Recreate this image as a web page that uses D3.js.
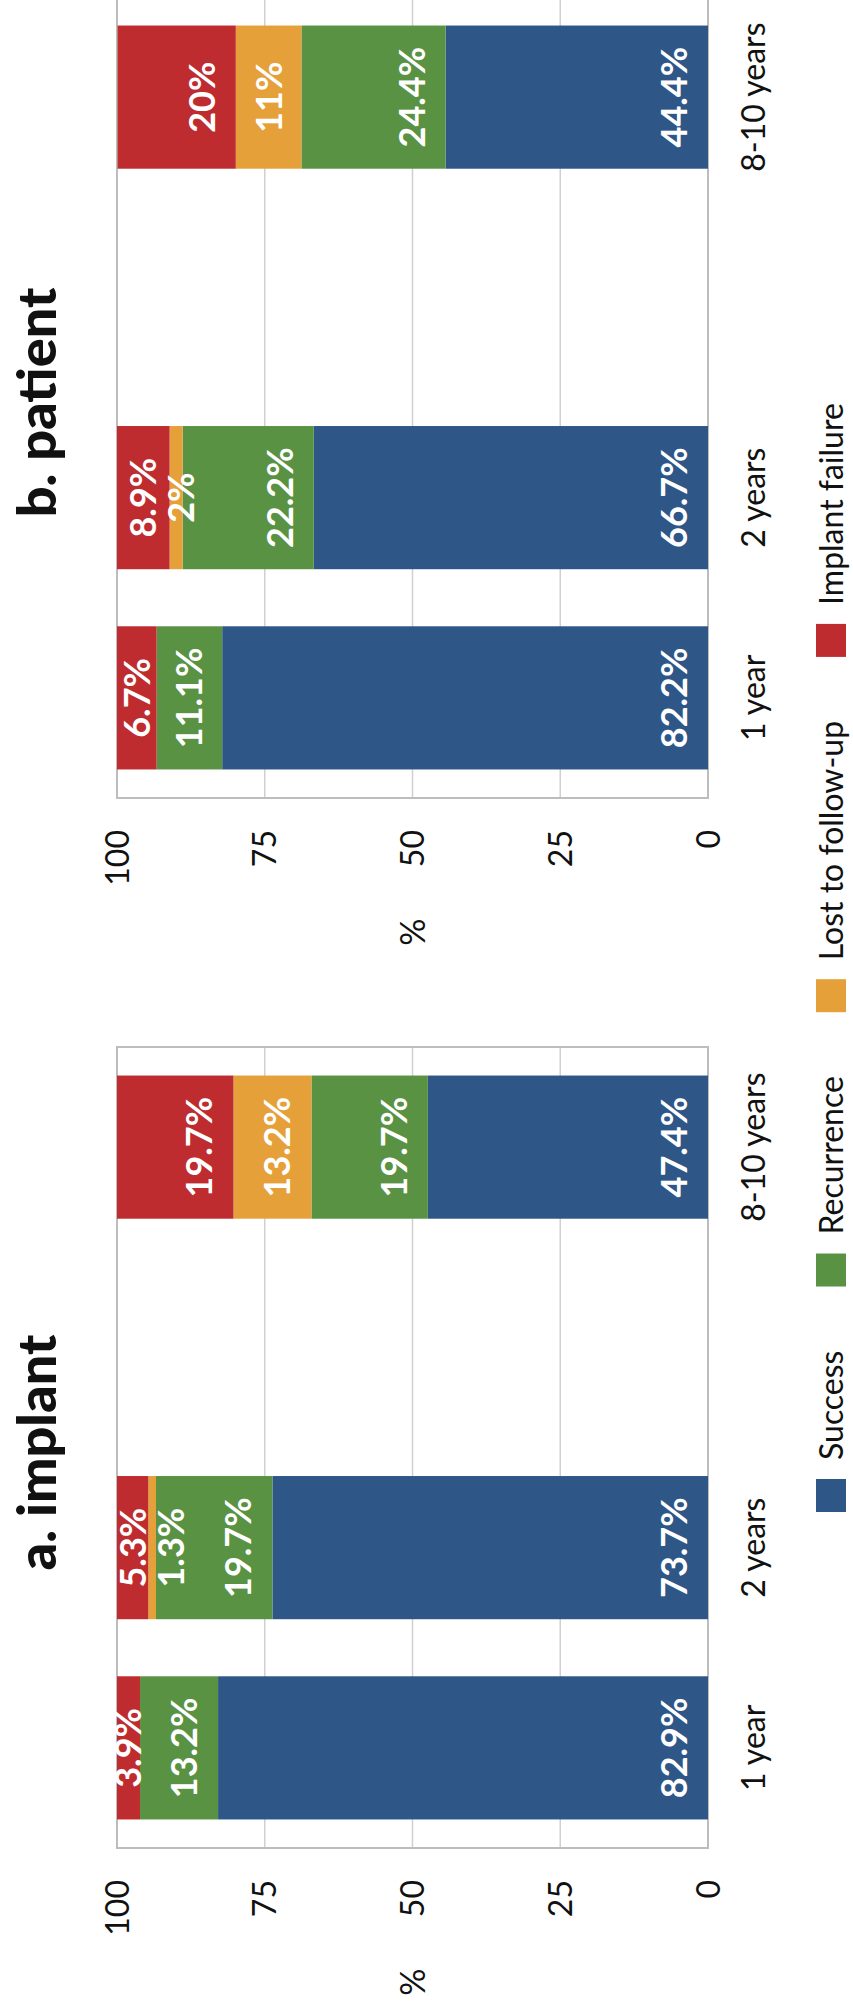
<!DOCTYPE html>
<html>
<head>
<meta charset="utf-8">
<script src="https://d3js.org/d3.v7.min.js"></script>
<style>
  body { margin: 0; background: #fff; }
  svg { display: block; font-family: Lato, "Open Sans", sans-serif; }
</style>
</head>
<body>
<svg id="chart" width="853" height="2008"></svg>
<script>
// Data
const periods = ['1 year', '2 years', '8-10 years'];
const slots = ['1 year', '2 years', 'gap', '8-10 years'];
const seriesNames = ['Success', 'Recurrence', 'Lost to follow-up', 'Implant failure'];
const seriesColors = ['#2e5788', '#5a9244', '#e6a03a', '#be2c2f'];
const yTicks = [0, 25, 50, 75, 100];

// implant panel, one array per series (1 year, 2 years, 8-10 years)
const implantSuccess = [82.9, 73.7, 47.4];
const implantRecurrence = [13.2, 19.7, 19.7];
const implantLost = [0, 1.3, 13.2];
const implantFailure = [3.9, 5.3, 19.7];

// patient panel
const patientSuccess = [82.2, 66.7, 44.4];
const patientRecurrence = [11.1, 22.2, 24.4];
const patientLost = [0, 2.2, 11.1];
const patientFailure = [6.7, 8.9, 20];
const patientLabels = [
  ['82.2%', '66.7%', '44.4%'],
  ['11.1%', '22.2%', '24.4%'],
  ['', '2%', '11%'],
  ['6.7%', '8.9%', '20%']
];

const fmt = v => v + '%';

const panels = [
  { title: 'a. implant', start: 160,
    series: [implantSuccess, implantRecurrence, implantLost, implantFailure],
    labels: [implantSuccess, implantRecurrence, implantLost, implantFailure].map(s => s.map(v => v ? fmt(v) : '')) },
  { title: 'b. patient', start: 1210,
    series: [patientSuccess, patientRecurrence, patientLost, patientFailure],
    labels: patientLabels }
];

// whole chart is drawn landscape and turned a quarter to the left
const W = 2008, H = 853;
const svg = d3.select('#chart');
const g = svg.append('g').attr('transform', `translate(0,${W}) rotate(-90)`);

const y = d3.scaleLinear().domain([0, 100]).range([708, 117]);
const plotW = 801;

panels.forEach(p => {
  const x = d3.scaleBand().domain(slots).range([p.start, p.start + plotW]);
  const barW = x.bandwidth() * 0.715;
  const pg = g.append('g');

  // gridlines
  pg.selectAll('.grid').data(yTicks.slice(1, 4)).enter().append('line')
    .attr('x1', p.start).attr('x2', p.start + plotW)
    .attr('y1', d => y(d)).attr('y2', d => y(d))
    .attr('stroke', '#d0d0d0').attr('stroke-width', 1.5);

  pg.append('rect')
    .attr('x', p.start).attr('y', y(100))
    .attr('width', plotW).attr('height', y(0) - y(100))
    .attr('fill', 'none').attr('stroke', '#bdbdbd').attr('stroke-width', 2);

  // tick labels
  pg.selectAll('.tick').data(yTicks).enter().append('text')
    .attr('x', p.start - 32).attr('y', d => y(d))
    .attr('dy', '0.36em').attr('text-anchor', 'end')
    .attr('font-size', 32).attr('fill', '#111')
    .text(d => d);

  pg.append('text')
    .attr('x', p.start - 134).attr('y', y(50)).attr('dy', '0.36em')
    .attr('text-anchor', 'middle').attr('font-size', 34).attr('fill', '#111')
    .text('%');

  // category labels
  pg.selectAll('.cat').data(periods).enter().append('text')
    .attr('x', d => x(d) + x.bandwidth() / 2).attr('y', 765)
    .attr('text-anchor', 'middle').attr('font-size', 32).attr('fill', '#111')
    .text(d => d);

  // title
  pg.append('text')
    .attr('x', p.start + plotW / 2 - 5).attr('y', 56)
    .attr('text-anchor', 'middle').attr('font-size', 54).attr('font-weight', 900)
    .attr('fill', '#111').text(p.title);

  // stacked bars
  periods.forEach((per, i) => {
    const cx = x(per) + x.bandwidth() / 2;
    const segs = [];
    let base = 0;
    p.series.forEach((s, k) => {
      const v = s[i];
      segs.push({ k, base, top: base + v, label: p.labels[k][i] });
      if (v > 0) {
        pg.append('rect')
          .attr('x', cx - barW / 2).attr('width', barW)
          .attr('y', y(base + v)).attr('height', y(base) - y(base + v))
          .attr('fill', seriesColors[k]);
      }
      base += v;
    });

    // labels sit just above the segment base; placed from the top down so
    // a crowded label gets pushed toward zero
    let prev = -Infinity;
    segs.slice().reverse().forEach(sg => {
      if (!sg.label) return;
      let c = Math.max(y(sg.base) - 34, (y(sg.base) + y(sg.top)) / 2);
      c = Math.max(c, prev + 38);
      prev = c;
      pg.append('text')
        .attr('x', cx).attr('y', c).attr('dy', '0.36em')
        .attr('text-anchor', 'middle').attr('font-size', 36).attr('font-weight', 700)
        .attr('fill', '#fff').text(sg.label);
    });
  });
});

// legend
const leg = g.append('g');
let lx = 496;
seriesNames.forEach((name, k) => {
  leg.append('rect').attr('x', lx).attr('y', 816).attr('width', 33).attr('height', 30)
    .attr('fill', seriesColors[k]);
  const t = leg.append('text').attr('x', lx + 52).attr('y', 843)
    .attr('font-size', 32).attr('fill', '#111').text(name);
  lx += 52 + t.node().getComputedTextLength() + 64;
});
</script>
</body>
</html>
